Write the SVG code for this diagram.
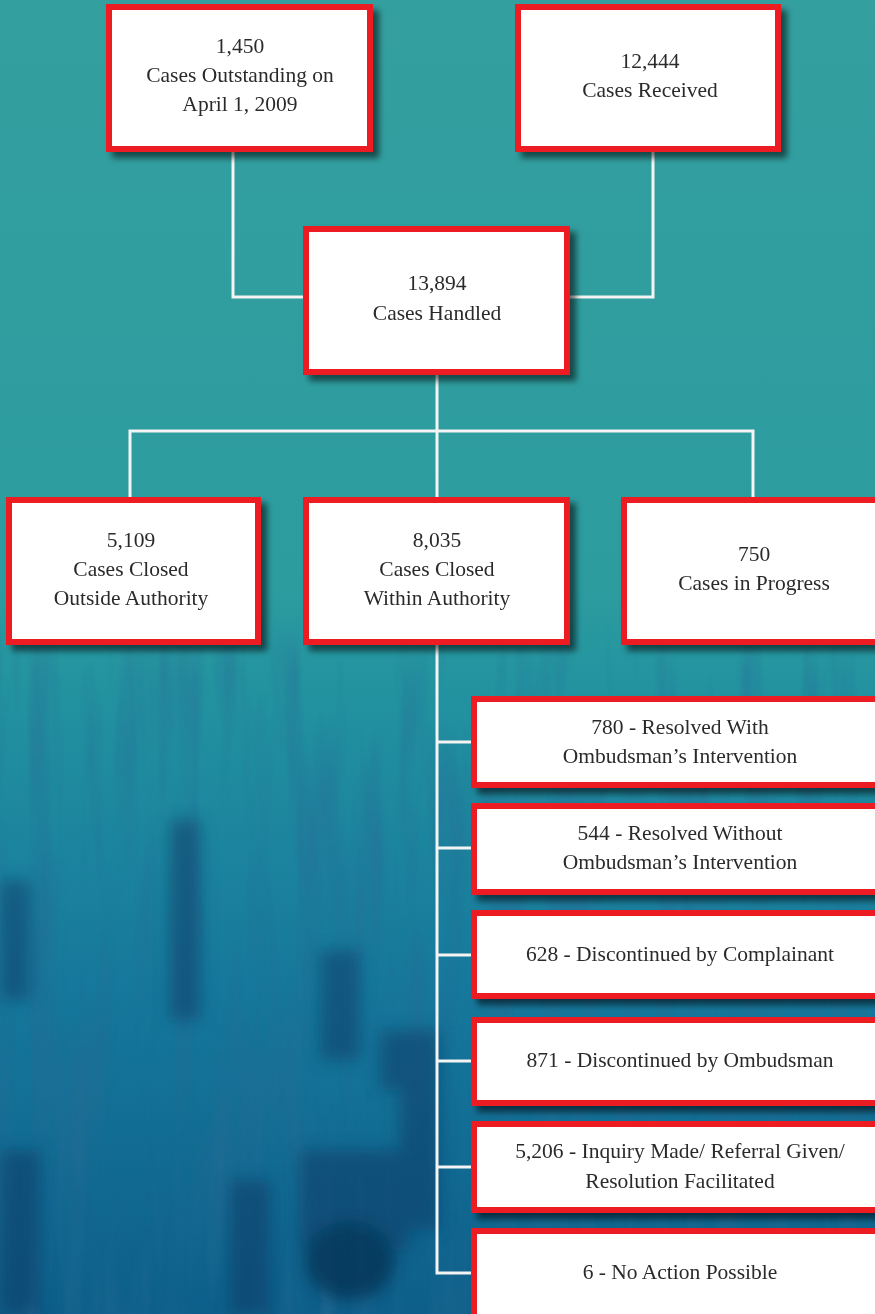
<svg xmlns="http://www.w3.org/2000/svg" width="875" height="1314" viewBox="0 0 875 1314">
<defs>
<linearGradient id="bg" x1="0" y1="0" x2="0" y2="1">
<stop offset="0" stop-color="#349f9f"/>
<stop offset="0.45" stop-color="#2c9c9f"/>
<stop offset="0.52" stop-color="#2393a0"/>
<stop offset="0.75" stop-color="#16789c"/>
<stop offset="1" stop-color="#0d5f8a"/>
</linearGradient>
<filter id="blur" x="-50%" y="-50%" width="200%" height="200%"><feGaussianBlur stdDeviation="8"/></filter>
<filter id="tex" x="0" y="0" width="100%" height="100%">
<feTurbulence type="fractalNoise" baseFrequency="0.035 0.004" numOctaves="3" seed="7"/>
<feColorMatrix type="matrix" values="0 0 0 0 0.02  0 0 0 0 0.15  0 0 0 0 0.3  0 0 0 -2.2 1.25"/>
</filter>
<linearGradient id="fade" x1="0" y1="0" x2="0" y2="1">
<stop offset="0" stop-color="#fff" stop-opacity="0"/>
<stop offset="0.08" stop-color="#fff" stop-opacity="0.9"/>
<stop offset="1" stop-color="#fff" stop-opacity="1"/>
</linearGradient>
<mask id="lowmask"><rect x="0" y="620" width="875" height="694" fill="url(#fade)"/></mask>
<filter id="shadow" x="-10%" y="-10%" width="130%" height="130%"><feDropShadow dx="6" dy="6" stdDeviation="3" flood-color="#000" flood-opacity="0.55"/></filter>
</defs>
<style>
.red{fill:#ec1c24}
.white{fill:#fff}
.t{font-family:"Liberation Serif","Times New Roman",serif;font-size:21.5px;fill:#2b2b2b;text-anchor:middle}
.c{fill:none;stroke:#f4f4f4;stroke-width:3}
</style>
<rect width="875" height="1314" fill="url(#bg)"/>
<g mask="url(#lowmask)">
<rect x="0" y="620" width="875" height="694" filter="url(#tex)" opacity="0.6"/>
<g filter="url(#blur)" fill="#0a3a66" opacity="0.55">
<rect x="0" y="880" width="30" height="120"/>
<rect x="170" y="820" width="30" height="200"/>
<rect x="320" y="950" width="40" height="110"/>
<rect x="380" y="1030" width="60" height="60"/>
<rect x="300" y="1150" width="110" height="100"/>
<ellipse cx="350" cy="1260" rx="45" ry="40" fill="#051d3a"/>
<rect x="0" y="1150" width="40" height="164"/>
<rect x="230" y="1180" width="40" height="134"/>
<rect x="400" y="1080" width="40" height="150"/>
</g>
</g>
<g id="connectors">
<path class="c" d="M233 152 V297 H303"/>
<path class="c" d="M653 152 V297 H570"/>
<path class="c" d="M437 375 V497"/>
<path class="c" d="M130 497 V431 H753 V497"/>
<path class="c" d="M437 645 V1273 H471"/>
<path class="c" d="M437 742 H471 M437 848 H471 M437 955 H471 M437 1061 H471 M437 1167 H471"/>
</g>
<g id="n1" filter="url(#shadow)"><rect class="red" x="106" y="4" width="267" height="148"/><rect class="white" x="112" y="10" width="255" height="136"/>
<text class="t" x="240" y="53">1,450</text><text class="t" x="240" y="82">Cases Outstanding on</text><text class="t" x="240" y="111">April 1, 2009</text></g>
<g id="n2" filter="url(#shadow)"><rect class="red" x="515" y="4" width="266" height="148"/><rect class="white" x="521" y="10" width="254" height="136"/>
<text class="t" x="650" y="68">12,444</text><text class="t" x="650" y="97">Cases Received</text></g>
<g id="n3" filter="url(#shadow)"><rect class="red" x="303" y="226" width="267" height="149"/><rect class="white" x="309" y="232" width="255" height="137"/>
<text class="t" x="437" y="290">13,894</text><text class="t" x="437" y="320">Cases Handled</text></g>
<g id="n4" filter="url(#shadow)"><rect class="red" x="6" y="497" width="255" height="148"/><rect class="white" x="12" y="503" width="243" height="136"/>
<text class="t" x="131" y="547">5,109</text><text class="t" x="131" y="576">Cases Closed</text><text class="t" x="131" y="605">Outside Authority</text></g>
<g id="n5" filter="url(#shadow)"><rect class="red" x="303" y="497" width="267" height="148"/><rect class="white" x="309" y="503" width="255" height="136"/>
<text class="t" x="437" y="547">8,035</text><text class="t" x="437" y="576">Cases Closed</text><text class="t" x="437" y="605">Within Authority</text></g>
<g id="n6" filter="url(#shadow)"><rect class="red" x="621" y="497" width="270" height="148"/><rect class="white" x="627" y="503" width="258" height="136"/>
<text class="t" x="754" y="561">750</text><text class="t" x="754" y="590">Cases in Progress</text></g>
<g id="r1" filter="url(#shadow)"><rect class="red" x="471" y="696" width="420" height="92"/><rect class="white" x="477" y="702" width="410" height="80"/>
<text class="t" x="680" y="734">780 - Resolved With</text><text class="t" x="680" y="763">Ombudsman’s Intervention</text></g>
<g id="r2" filter="url(#shadow)"><rect class="red" x="471" y="803" width="420" height="92"/><rect class="white" x="477" y="809" width="410" height="80"/>
<text class="t" x="680" y="840">544 - Resolved Without</text><text class="t" x="680" y="869">Ombudsman’s Intervention</text></g>
<g id="r3" filter="url(#shadow)"><rect class="red" x="471" y="910" width="420" height="89"/><rect class="white" x="477" y="916" width="410" height="77"/>
<text class="t" x="680" y="961">628 - Discontinued by Complainant</text></g>
<g id="r4" filter="url(#shadow)"><rect class="red" x="471" y="1017" width="420" height="89"/><rect class="white" x="477" y="1023" width="410" height="77"/>
<text class="t" x="680" y="1067">871 - Discontinued by Ombudsman</text></g>
<g id="r5" filter="url(#shadow)"><rect class="red" x="471" y="1121" width="420" height="92"/><rect class="white" x="477" y="1127" width="410" height="80"/>
<text class="t" x="680" y="1158">5,206 - Inquiry Made/ Referral Given/</text><text class="t" x="680" y="1188">Resolution Facilitated</text></g>
<g id="r6" filter="url(#shadow)"><rect class="red" x="471" y="1228" width="420" height="100"/><rect class="white" x="477" y="1234" width="410" height="90"/>
<text class="t" x="680" y="1279">6 - No Action Possible</text></g>
</svg>
